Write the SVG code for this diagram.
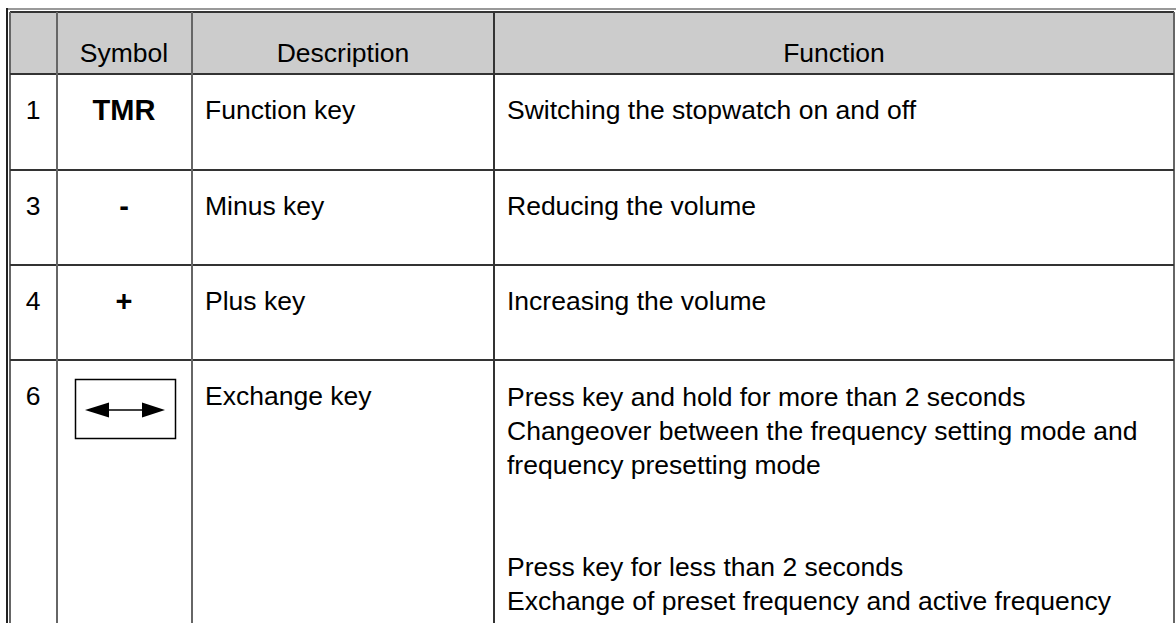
<svg xmlns="http://www.w3.org/2000/svg" width="1176" height="623" viewBox="0 0 1176 623">
<style>
text{font-family:"Liberation Sans",Arial,sans-serif;font-size:26.5px;fill:#000}
.c{text-anchor:middle}
.b{font-weight:bold}
.g{stroke:#666;stroke-width:2;fill:none}
.d{stroke:#333;stroke-width:2;fill:none}
</style>
<rect width="1176" height="623" fill="#fff"/>
<g id="frame">
<rect x="10" y="12" width="1164" height="62" fill="#cccccc"/>
<line x1="7" y1="9" x2="1176" y2="9" stroke="#999" stroke-width="2"/>
<line x1="7" y1="8" x2="7" y2="623" stroke="#222" stroke-width="2"/>
<line x1="10" y1="12" x2="1174" y2="12" class="d"/>
<line x1="10" y1="12" x2="10" y2="623" class="g"/>
<line x1="1174" y1="12" x2="1174" y2="623" class="g"/>
</g>
<g id="grid">
<line x1="10" y1="74" x2="1174" y2="74" class="d"/>
<line x1="10" y1="170" x2="1174" y2="170" class="d"/>
<line x1="10" y1="265" x2="1174" y2="265" class="d"/>
<line x1="10" y1="360" x2="1174" y2="360" class="d"/>
<line x1="57" y1="12" x2="57" y2="623" class="g"/>
<line x1="192" y1="12" x2="192" y2="623" class="g"/>
<line x1="494" y1="12" x2="494" y2="623" class="d"/>
</g>
<g id="header">
<text x="124" y="62" class="c">Symbol</text>
<text x="343" y="62" class="c">Description</text>
<text x="834" y="62" class="c">Function</text>
</g>
<g id="row1">
<text x="33" y="119" class="c">1</text>
<text x="124" y="120" class="c b" style="font-size:29px">TMR</text>
<text x="205" y="119">Function key</text>
<text x="507" y="119">Switching the stopwatch on and off</text>
</g>
<g id="row3">
<text x="33" y="215" class="c">3</text>
<text x="124" y="216" class="c b" style="font-size:29px">-</text>
<text x="205" y="215">Minus key</text>
<text x="507" y="215">Reducing the volume</text>
</g>
<g id="row4">
<text x="33" y="310" class="c">4</text>
<text x="124" y="311" class="c b" style="font-size:29px">+</text>
<text x="205" y="310">Plus key</text>
<text x="507" y="310">Increasing the volume</text>
</g>
<g id="row6">
<text x="33" y="405" class="c">6</text>
<rect x="75.5" y="379.5" width="100" height="59" fill="none" stroke="#000" stroke-width="1.5"/>
<line x1="105" y1="410" x2="145" y2="410" stroke="#000" stroke-width="1.5"/>
<polygon points="85,410 109,402.5 109,417.5" fill="#000"/>
<polygon points="165,410 142,402.5 142,417.5" fill="#000"/>
<text x="205" y="405">Exchange key</text>
<text x="507" y="406">Press key and hold for more than 2 seconds</text>
<text x="507" y="440">Changeover between the frequency setting mode and</text>
<text x="507" y="474">frequency presetting mode</text>
<text x="507" y="576">Press key for less than 2 seconds</text>
<text x="507" y="610">Exchange of preset frequency and active frequency</text>
</g>
</svg>
